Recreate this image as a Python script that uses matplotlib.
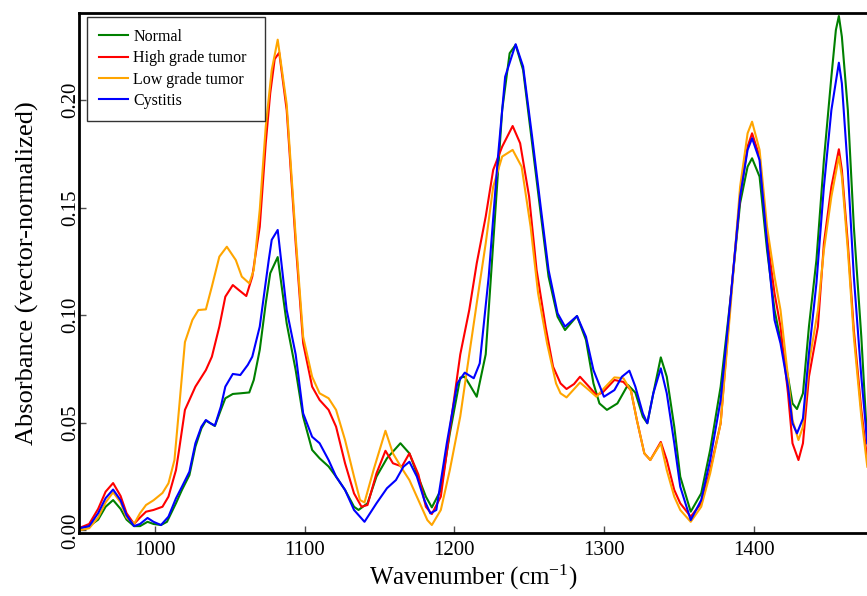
import matplotlib
matplotlib.use("Agg")
import matplotlib.pyplot as plt

plt.rcParams["font.family"] = ["Liberation Serif", "DejaVu Serif"]
plt.rcParams["mathtext.fontset"] = "stix"

# spectra (wavenumber in cm-1, absorbance)
normal_wn = [949, 956, 962, 967, 972, 977, 981, 986, 990, 995, 999, 1004, 1008, 1014, 1018,
             1023, 1027, 1031, 1034, 1037, 1040, 1044, 1047, 1052, 1057, 1063, 1066, 1070,
             1074, 1077, 1082, 1088, 1094, 1099, 1105, 1110, 1116, 1121, 1127, 1133, 1136,
             1142, 1148, 1155, 1164, 1170, 1175, 1181, 1185, 1191, 1197, 1204, 1207, 1210,
             1215, 1221, 1226, 1232, 1237, 1241, 1246, 1252, 1258, 1263, 1269, 1274, 1282,
             1288, 1293, 1297, 1302, 1309, 1316, 1321, 1326, 1329, 1333, 1338, 1342, 1347,
             1351, 1358, 1365, 1371, 1378, 1385, 1391, 1396, 1399, 1404, 1409, 1414, 1418,
             1423, 1426, 1429, 1433, 1437, 1442, 1447, 1452, 1455, 1457, 1459, 1463, 1467,
             1472, 1476]
normal_abs = [0.001, 0.002, 0.005, 0.011, 0.0141, 0.010, 0.005, 0.002, 0.002, 0.004, 0.003,
              0.0025, 0.004, 0.0126, 0.0188, 0.0257, 0.0389, 0.0474, 0.051, 0.0498, 0.0485,
              0.056, 0.0614, 0.0634, 0.0637, 0.0641, 0.0699, 0.0839, 0.1055, 0.1195, 0.127,
              0.0962, 0.0745, 0.0528, 0.0374, 0.0335, 0.0297, 0.025, 0.0188, 0.011, 0.0095,
              0.0126, 0.025, 0.0335, 0.0405, 0.0358, 0.0265, 0.0157, 0.0107, 0.0188, 0.045,
              0.071, 0.0714, 0.068, 0.0621, 0.0818, 0.1334, 0.1953, 0.2217, 0.2256, 0.2139,
              0.1799, 0.1458, 0.1179, 0.0993, 0.0931, 0.0996, 0.0885, 0.0683, 0.059, 0.056,
              0.059, 0.0676, 0.064, 0.0528, 0.0498, 0.0637, 0.0804, 0.0714, 0.0482, 0.025,
              0.0087, 0.0172, 0.0374, 0.0668, 0.1102, 0.152, 0.169, 0.1729, 0.1644, 0.1303,
              0.1024, 0.0885, 0.0714, 0.059, 0.0564, 0.0637, 0.0947, 0.1256, 0.1721, 0.2108,
              0.2325, 0.239, 0.2294, 0.1953, 0.1411, 0.09, 0.0405]

high_wn = [949, 956, 962, 967, 972, 977, 981, 986, 990, 994, 999, 1005, 1009, 1014, 1016,
           1020, 1023, 1027, 1034, 1038, 1043, 1047, 1052, 1056, 1061, 1065, 1070, 1074,
           1077, 1080, 1083, 1088, 1094, 1099, 1105, 1110, 1116, 1121, 1127, 1133, 1138,
           1142, 1148, 1154, 1159, 1165, 1170, 1176, 1181, 1185, 1191, 1197, 1204, 1210,
           1215, 1221, 1226, 1232, 1239, 1244, 1250, 1255, 1261, 1266, 1271, 1275, 1280,
           1284, 1290, 1295, 1299, 1307, 1313, 1318, 1322, 1327, 1331, 1338, 1342, 1347,
           1351, 1358, 1365, 1371, 1378, 1385, 1391, 1396, 1399, 1404, 1409, 1414, 1418,
           1423, 1426, 1430, 1433, 1437, 1443, 1447, 1452, 1457, 1459, 1463, 1467, 1472, 1476]
high_abs = [0.001, 0.003, 0.010, 0.018, 0.022, 0.016, 0.008, 0.003, 0.006, 0.0087, 0.0095,
            0.011, 0.0157, 0.028, 0.037, 0.056, 0.0606, 0.0668, 0.0745, 0.0807, 0.0947,
            0.1086, 0.114, 0.1117, 0.1089, 0.1179, 0.1411, 0.1799, 0.2031, 0.219, 0.222,
            0.1953, 0.1335, 0.087, 0.0668, 0.0606, 0.056, 0.0482, 0.0312, 0.0172, 0.011,
            0.0118, 0.0265, 0.037, 0.0312, 0.0297, 0.0358, 0.026, 0.011, 0.0076, 0.0157,
            0.0467, 0.0818, 0.1024, 0.1241, 0.1458, 0.1675, 0.1783, 0.1879, 0.1799, 0.1551,
            0.121, 0.0947, 0.0761, 0.0683, 0.0657, 0.068, 0.0714, 0.0668, 0.0629, 0.064,
            0.0699, 0.069, 0.0652, 0.0513, 0.0358, 0.0327, 0.0411, 0.0327, 0.0188, 0.0126,
            0.0064, 0.0126, 0.028, 0.0498, 0.1102, 0.1551, 0.1783, 0.1845, 0.1737, 0.1365,
            0.1102, 0.0947, 0.0637, 0.0405, 0.0327, 0.0405, 0.0714, 0.0947, 0.1334, 0.1597,
            0.1771, 0.1675, 0.1334, 0.0931, 0.056, 0.0327]

low_wn = [949, 956, 962, 967, 972, 977, 981, 986, 990, 994, 999, 1005, 1009, 1013, 1016,
          1020, 1025, 1029, 1034, 1038, 1043, 1048, 1054, 1058, 1063, 1066, 1070, 1074,
          1078, 1082, 1088, 1094, 1099, 1105, 1110, 1116, 1121, 1127, 1133, 1137, 1140,
          1146, 1154, 1159, 1165, 1170, 1176, 1182, 1185, 1191, 1197, 1204, 1210, 1215,
          1221, 1226, 1232, 1239, 1245, 1251, 1256, 1262, 1268, 1271, 1275, 1284, 1290,
          1295, 1300, 1307, 1313, 1318, 1322, 1327, 1331, 1338, 1342, 1347, 1351, 1358,
          1365, 1371, 1378, 1385, 1391, 1396, 1399, 1404, 1409, 1414, 1418, 1423, 1426,
          1430, 1433, 1437, 1443, 1447, 1452, 1457, 1459, 1463, 1467, 1472, 1476]
low_abs = [0.000, 0.001, 0.006, 0.013, 0.0177, 0.013, 0.006, 0.003, 0.008, 0.0118, 0.014,
           0.0174, 0.0219, 0.0327, 0.056, 0.0875, 0.0978, 0.1024, 0.1027, 0.1133, 0.1272,
           0.1318, 0.1256, 0.1179, 0.1148, 0.121, 0.149, 0.1876, 0.2139, 0.228, 0.198,
           0.1365, 0.09, 0.0714, 0.0637, 0.0614, 0.056, 0.042, 0.025, 0.0141, 0.013, 0.028,
           0.0463, 0.0358, 0.0288, 0.0234, 0.0141, 0.0048, 0.0025, 0.0095, 0.028, 0.053,
           0.0818, 0.1055, 0.1334, 0.1597, 0.1737, 0.1768, 0.169, 0.1411, 0.1102, 0.0869,
           0.0683, 0.0637, 0.0618, 0.0687, 0.0652, 0.0621, 0.066, 0.0711, 0.0707, 0.065,
           0.0513, 0.0358, 0.0327, 0.0405, 0.028, 0.0157, 0.0095, 0.004, 0.011, 0.0265,
           0.0498, 0.107, 0.1597, 0.1845, 0.1899, 0.1768, 0.1411, 0.1179, 0.1024, 0.0714,
           0.0513, 0.042, 0.0482, 0.0776, 0.1024, 0.1303, 0.1551, 0.1737, 0.1644, 0.1303,
           0.09, 0.0528, 0.0296]

cyst_wn = [949, 956, 962, 967, 972, 977, 981, 986, 990, 995, 999, 1004, 1009, 1014, 1018,
           1023, 1027, 1031, 1034, 1037, 1040, 1044, 1047, 1052, 1057, 1062, 1065, 1070,
           1073, 1076, 1078, 1082, 1088, 1094, 1099, 1105, 1110, 1116, 1121, 1127, 1133,
           1140, 1148, 1155, 1161, 1166, 1170, 1175, 1180, 1184, 1188, 1195, 1202, 1207,
           1213, 1217, 1223, 1229, 1234, 1241, 1246, 1252, 1258, 1263, 1269, 1274, 1282,
           1288, 1293, 1300, 1307, 1312, 1317, 1321, 1326, 1329, 1333, 1338, 1342, 1347,
           1351, 1358, 1365, 1371, 1378, 1385, 1391, 1396, 1399, 1404, 1409, 1414, 1418,
           1423, 1426, 1429, 1433, 1437, 1442, 1447, 1452, 1457, 1459, 1463, 1467, 1472, 1476]
cyst_abs = [0.001, 0.002, 0.008, 0.015, 0.019, 0.014, 0.007, 0.002, 0.003, 0.0058, 0.004,
            0.0025, 0.0064, 0.0149, 0.0203, 0.0273, 0.0405, 0.0482, 0.0513, 0.0498, 0.0487,
            0.0575, 0.0668, 0.0727, 0.0722, 0.0769, 0.0807, 0.0947, 0.1102, 0.1256, 0.135,
            0.1396, 0.1024, 0.0818, 0.0544, 0.0435, 0.0405, 0.0327, 0.025, 0.0188, 0.0095,
            0.004, 0.0126, 0.0196, 0.0234, 0.0296, 0.0319, 0.025, 0.0141, 0.0079, 0.0095,
            0.0405, 0.0683, 0.0733, 0.0707, 0.0776, 0.1179, 0.1721, 0.2108, 0.2259, 0.2155,
            0.183, 0.1489, 0.121, 0.1009, 0.0947, 0.0996, 0.09, 0.0745, 0.0621, 0.0652,
            0.0714, 0.0742, 0.0668, 0.0544, 0.0498, 0.0637, 0.0753, 0.0637, 0.0405, 0.0203,
            0.0048, 0.0141, 0.0327, 0.0606, 0.1102, 0.1551, 0.1768, 0.1822, 0.1721, 0.1334,
            0.0978, 0.0869, 0.0668, 0.0498, 0.0451, 0.052, 0.0823, 0.1148, 0.1597, 0.1953,
            0.2173, 0.2077, 0.1675, 0.1179, 0.0714, 0.0405]

fig = plt.figure(figsize=(8.67, 5.96), dpi=100)
ax = fig.add_axes([0.0911, 0.1057, 0.9089, 0.8725])

ax.plot(normal_wn, normal_abs, color="green", lw=1.5, label="Normal")
ax.plot(high_wn, high_abs, color="red", lw=1.5, label="High grade tumor")
ax.plot(low_wn, low_abs, color="orange", lw=1.5, label="Low grade tumor")
ax.plot(cyst_wn, cyst_abs, color="blue", lw=1.5, label="Cystitis")

ax.set_xlim(949.2, 1475.8)
ax.set_ylim(-0.0012, 0.2404)
ax.set_xticks([1000, 1100, 1200, 1300, 1400])
ax.set_yticks([0.0, 0.05, 0.10, 0.15, 0.20])
ax.set_yticklabels(["0.00", "0.05", "0.10", "0.15", "0.20"])

for s in ["left", "bottom", "top"]:
    ax.spines[s].set_linewidth(2)
ax.spines["right"].set_visible(False)

ax.tick_params(direction="in", length=5, width=1, color="0.3", labelsize=15)
ax.tick_params(axis="x", pad=6)
ax.tick_params(axis="y", pad=-1)
for lab in ax.get_yticklabels():
    lab.set_rotation(90)
    lab.set_va("center")

ax.set_xlabel("Wavenumber (cm$\\mathregular{^{-1}}$)", fontsize=18, labelpad=2)
ax.set_ylabel("Absorbance (vector-normalized)", fontsize=19, labelpad=16)

# legend box placed where the reference draws it (axes fraction)
leg = ax.legend(loc="upper left", bbox_to_anchor=(0.0102, 0.0, 0.2259, 0.9923),
                mode="expand", borderaxespad=0, fontsize=11.5, frameon=True,
                fancybox=False, edgecolor="black", handlelength=1.8,
                labelspacing=0.33, borderpad=0.75, handletextpad=0.35)
leg.get_frame().set_linewidth(1)

fig.savefig("out.png", dpi=100)
